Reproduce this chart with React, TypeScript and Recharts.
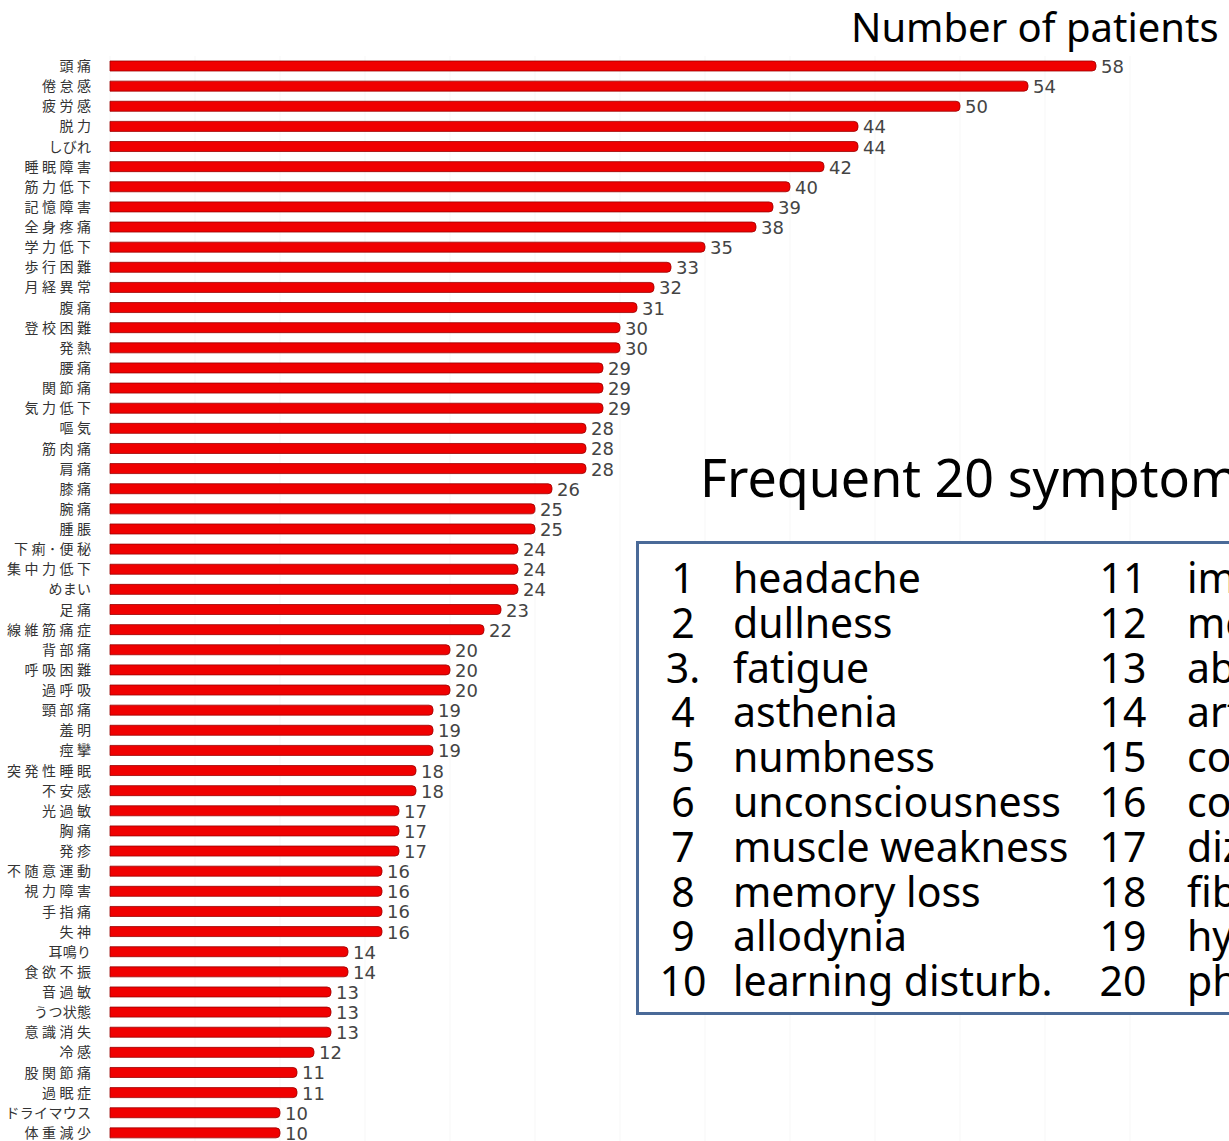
import React from "react";
import { BarChart, Bar, XAxis, YAxis, CartesianGrid, LabelList } from "recharts";

const categories = [
  "頭痛", "倦怠感", "疲労感", "脱力", "しびれ", "睡眠障害", "筋力低下", "記憶障害", "全身疼痛",
  "学力低下", "歩行困難", "月経異常", "腹痛", "登校困難", "発熱", "腰痛", "関節痛", "気力低下",
  "嘔気", "筋肉痛", "肩痛", "膝痛", "腕痛", "腫脹", "下痢･便秘", "集中力低下", "めまい", "足痛",
  "線維筋痛症", "背部痛", "呼吸困難", "過呼吸", "頸部痛", "羞明", "痙攣", "突発性睡眠", "不安感",
  "光過敏", "胸痛", "発疹", "不随意運動", "視力障害", "手指痛", "失神", "耳鳴り", "食欲不振",
  "音過敏", "うつ状態", "意識消失", "冷感", "股関節痛", "過眠症", "ドライマウス", "体重減少",
];

const patients = [
  58, 54, 50, 44, 44, 42, 40, 39, 38,
  35, 33, 32, 31, 30, 30, 29, 29, 29,
  28, 28, 28, 26, 25, 25, 24, 24, 24, 23,
  22, 20, 20, 20, 19, 19, 19, 18, 18,
  17, 17, 17, 16, 16, 16, 16, 14, 14,
  13, 13, 13, 12, 11, 11, 10, 10,
];

const xTicks = [0, 5, 10, 15, 20, 25, 30, 35, 40, 45, 50, 55, 60];

const listNumbersLeft = ["1", "2", "3.", "4", "5", "6", "7", "8", "9", "10"];
const listNamesLeft = [
  "headache", "dullness", "fatigue", "asthenia", "numbness", "unconsciousness",
  "muscle weakness", "memory loss", "allodynia", "learning disturb.",
];
const listNumbersRight = ["11", "12", "13", "14", "15", "16", "17", "18", "19", "20"];
const listNamesRight = [
  "impaired walking", "menstrual disorder", "abdominal pain", "arthralgia", "constipation",
  "concentration loss", "dizziness", "fibromyalgia", "hyperventilation", "photophobia",
];

const data = categories.map((name, i) => ({ name, value: patients[i] }));

const titleFont = "'Noto Sans', 'DejaVu Sans', sans-serif";

const renderValueLabel = (props: any) => {
  const { x, y, width, height, value } = props;
  return (
    <text
      x={Number(x) + Number(width) + 5}
      y={Number(y) + Number(height) / 2 + 7}
      fill="#444444"
      fontSize={18}
      fontFamily="'DejaVu Sans', sans-serif"
      textAnchor="start"
    >
      {value}
    </text>
  );
};

const kanaRe = /[\u3040-\u30ff]/;

const renderCategoryTick = (props: any) => {
  const { x, y, payload } = props;
  const label = String(payload.value);
  const hasKana = kanaRe.test(label);
  const spacing = hasKana ? 0.3 : 3.5;
  return (
    <text
      x={Number(x) + spacing}
      y={Number(y)}
      dy={5}
      textAnchor="end"
      fill="#333333"
      fontSize={14}
      fontFamily="'Noto Sans CJK JP', sans-serif"
      letterSpacing={spacing}
    >
      {label}
    </text>
  );
};

const rowStyle = (i: number): React.CSSProperties => ({
  position: "absolute",
  top: 557 + i * 44.8,
  fontFamily: titleFont,
  fontSize: 41,
  lineHeight: "40px",
  color: "#000",
  whiteSpace: "nowrap",
});

export default function App() {
  return (
    <div
      style={{
        position: "absolute",
        left: 0,
        top: 0,
        width: 1229,
        height: 1141,
        overflow: "hidden",
        background: "#ffffff",
      }}
    >
      <BarChart
        width={1229}
        height={1143}
        data={data}
        layout="vertical"
        margin={{ top: 56, right: 99, bottom: 0, left: 0 }}
        barSize={10}
      >
        <CartesianGrid horizontal={false} stroke="#f7f7f7" />
        <XAxis type="number" domain={[0, 60]} ticks={xTicks} hide />
        <YAxis
          type="category"
          dataKey="name"
          width={110}
          axisLine={false}
          tickLine={false}
          tickSize={0}
          tickMargin={19}
          interval={0}
          tick={renderCategoryTick}
        />
        <Bar
          dataKey="value"
          fill="#f00000"
          stroke="#9c0000"
          strokeWidth={0.8}
          radius={[0, 4, 4, 0]}
          isAnimationActive={false}
        >
          <LabelList dataKey="value" content={renderValueLabel} />
        </Bar>
      </BarChart>

      <div
        style={{
          position: "absolute",
          left: 851,
          top: 2,
          fontFamily: titleFont,
          fontSize: 40,
          color: "#000",
          whiteSpace: "nowrap",
          lineHeight: "50px",
        }}
      >
        Number of patients
      </div>

      <div
        style={{
          position: "absolute",
          left: 700,
          top: 443,
          fontFamily: titleFont,
          fontSize: 52,
          color: "#000",
          whiteSpace: "nowrap",
          lineHeight: "68px",
        }}
      >
        Frequent 20 symptoms
      </div>

      <div
        style={{
          position: "absolute",
          left: 636,
          top: 541,
          width: 760,
          height: 468,
          border: "3px solid #4a6a98",
          background: "#ffffff",
        }}
      />

      {listNamesLeft.map((name, i) => (
        <React.Fragment key={"l" + i}>
          <div style={{ ...rowStyle(i), left: 650, width: 66, textAlign: "center" }}>
            {listNumbersLeft[i]}
          </div>
          <div style={{ ...rowStyle(i), left: 733 }}>{name}</div>
        </React.Fragment>
      ))}

      {listNamesRight.map((name, i) => (
        <React.Fragment key={"r" + i}>
          <div style={{ ...rowStyle(i), left: 1090, width: 66, textAlign: "center" }}>
            {listNumbersRight[i]}
          </div>
          <div style={{ ...rowStyle(i), left: 1187 }}>{name}</div>
        </React.Fragment>
      ))}
    </div>
  );
}
